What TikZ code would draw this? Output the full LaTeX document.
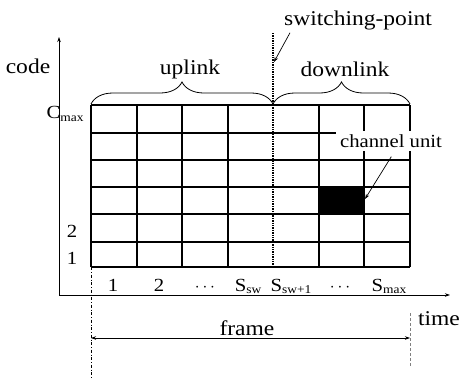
\documentclass[tikz,border=0pt]{standalone}
\usepackage{fontspec}
\setmainfont[FakeStretch=1.12]{Liberation Serif}
\usetikzlibrary{arrows.meta,decorations.pathreplacing}
\newcommand\mysub[1]{\raisebox{-0.35ex}{\fontsize{12}{12}\selectfont #1}}
\begin{document}
\begin{tikzpicture}[x=1pt,y=-1pt,
  gridline/.style={line width=1.4pt},
  axisline/.style={line width=0.7pt},
  big/.style={font=\fontsize{21}{21}\selectfont, inner sep=0pt},
  small/.style={font=\fontsize{18.5}{18.5}\selectfont, inner sep=0pt},
  tip/.style={-{Stealth[length=5pt,width=3.5pt]}},
  brc/.style={decorate, decoration={brace, amplitude=22pt}, line width=0.8pt}]
\useasboundingbox (0,0) rectangle (461,378);
% filled channel unit
\fill (319,187) rectangle (364,214);
% grid
\foreach \y in {105,133,160,187,214,242,267} \draw[gridline] (91,\y) -- (410,\y);
\foreach \x in {91,137,182,228,319,364,410} \draw[gridline] (\x,105) -- (\x,267);
% switching point line
\coordinate (swtop) at (273,33);
\coordinate (swbot) at (273,267);
\coordinate (swhit) at (274,62);
\draw[densely dotted, line width=1.4pt] (swtop) -- (swbot);
% axes
\coordinate (ytop) at (59,37);
\coordinate (orig) at (59,295);
\coordinate (xend) at (450,295);
\draw[axisline, {Stealth[length=5pt,width=3.5pt]}-{Stealth[length=5pt,width=3.5pt]}] (ytop) -- (orig) -- (xend);
% frame guide lines
\coordinate (fl0) at (91,267);
\coordinate (fl1) at (91,378);
\coordinate (fr0) at (410,313);
\coordinate (fr1) at (410,366);
\draw[line width=0.5pt, dash dot] (fl0) -- (fl1);
\draw[line width=0.6pt, densely dashed, gray] (fr0) -- (fr1);
\coordinate (fl) at (91,338);
\coordinate (fr) at (410,338);
\draw[axisline, {Stealth[length=5pt,width=3.5pt]}-{Stealth[length=5pt,width=3.5pt]}] (fl) -- (fr);
% braces
\coordinate (ul) at (91,104);
\coordinate (um) at (273,104);
\coordinate (dr) at (410,104);
\draw[brc] (ul) -- (um);
\draw[brc] (um) -- (dr);
% labels
\node[big] (code) at (28,66) {code};
\node[big] (uplink) at (190,69) {uplink};
\node[big] (downlink) at (345,69) {downlink};
\node[big] (swp) at (358,20) {switching-point};
\node[big] (time) at (439,319) {time};
\node[big] (frame) at (247,328) {frame};
\node[small] (cmax) at (65,114) {C\mysub{max}};
\node[small] (r2) at (72,231) {2};
\node[small] (r1) at (72,258) {1};
\node[small, anchor=base] (c1) at (113,291) {1};
\node[small, anchor=base] (c2) at (159,291) {2};
\node[small, anchor=base] (c3) at (205,291) {$\cdots$};
\node[small, anchor=base] (c4) at (248,291) {S\mysub{sw}};
\node[small, anchor=base] (c5) at (291,291) {S\mysub{sw+1}};
\node[small, anchor=base] (c6) at (340,291) {$\cdots$};
\node[small, anchor=base] (c7) at (389,291) {S\mysub{max}};
\node[font=\fontsize{18.5}{18.5}\selectfont, fill=white, inner xsep=4pt, inner ysep=3pt] (cu) at (391,141) {channel unit};
% connectors
\coordinate (cuhit) at (365,199);
\draw[axisline, tip, shorten <=7pt] ([xshift=4pt]cu.south) -- (cuhit);
\draw[axisline, tip] ([xshift=-68pt,yshift=-3pt]swp.south) -- (swhit);
\end{tikzpicture}
\end{document}
